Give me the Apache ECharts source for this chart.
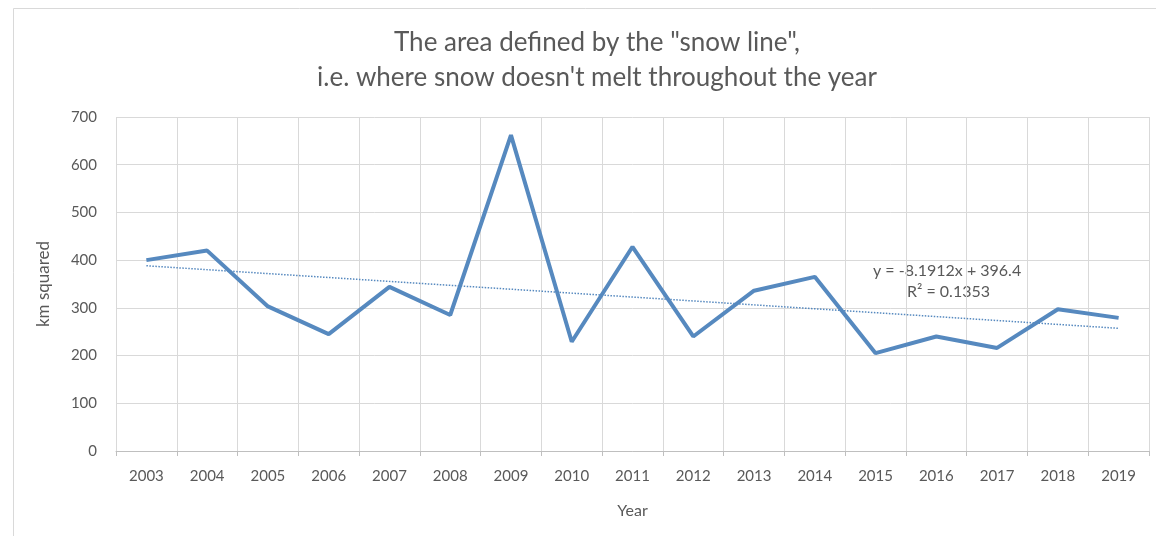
<!DOCTYPE html>
<html lang="en">
<head>
    <meta charset="UTF-8">
    <title>Snow line area</title>
    <script type="text/javascript" src="https://cdn.jsdelivr.net/npm/echarts@6/dist/echarts.min.js"></script>
    <style>
        html, body { margin: 0; padding: 0; background: #fff; }
    </style>
</head>
<body>
<div id="chart1" style="width:1156px;height:536px"></div>
</body>
<script type="text/javascript">
    var years = ['2003', '2004', '2005', '2006', '2007', '2008', '2009', '2010', '2011',
        '2012', '2013', '2014', '2015', '2016', '2017', '2018', '2019'];
    var area = [400, 420, 303, 245, 344, 285, 662, 229, 428, 240, 336, 365, 205, 240, 216, 297, 279];
    // trendline ends as drawn (first / last year)
    var trendEnds = [388.2, 257.1];
    var yTicks = [0, 100, 200, 300, 400, 500, 600, 700];

    var myChart = echarts.init(document.getElementById('chart1'));
    var font = 'Lato, "Open Sans", sans-serif';
    var grey = '#595959';
    var option = {
        animation: false,
        backgroundColor: '#fff',
        title: {
            text: 'The area defined by the "snow line",\ni.e. where snow doesn\'t melt throughout the year',
            left: 592,
            textAlign: 'center',
            top: 20,
            textStyle: {
                fontFamily: font,
                fontSize: 26,
                fontWeight: 'normal',
                color: grey,
                lineHeight: 35
            }
        },
        graphic: [
            {
                type: 'rect', left: 11, top: 6,
                shape: {width: 1160, height: 540},
                style: {fill: 'none', stroke: '#d9d9d9', lineWidth: 1},
                silent: true
            },
            {
                type: 'text', left: 873, top: 263,
                style: {text: 'y = -8.1912x + 396.4', fontFamily: font, fontSize: 16, fill: grey}
            },
            {
                type: 'text', left: 907, top: 284,
                style: {text: 'R² = 0.1353', fontFamily: font, fontSize: 16, fill: grey}
            }
        ],
        grid: {left: 116, right: 7, top: 117, bottom: 85},
        xAxis: {
            type: 'category',
            data: years,
            boundaryGap: true,
            name: 'Year',
            nameLocation: 'middle',
            nameGap: 52,
            nameTextStyle: {fontFamily: font, fontSize: 16, color: grey},
            axisLine: {lineStyle: {color: '#bfbfbf'}},
            axisTick: {show: true, length: 5, lineStyle: {color: '#bfbfbf'}},
            axisLabel: {fontFamily: font, fontSize: 15, color: grey, margin: 18},
            splitLine: {show: true, lineStyle: {color: '#d9d9d9'}}
        },
        yAxis: {
            type: 'value',
            min: yTicks[0],
            max: yTicks[yTicks.length - 1],
            interval: 100,
            name: 'km squared',
            nameLocation: 'middle',
            nameGap: 64,
            nameRotate: 90,
            nameTextStyle: {fontFamily: font, fontSize: 17, color: grey},
            axisLine: {show: false},
            axisTick: {show: false},
            axisLabel: {fontFamily: font, fontSize: 15, color: grey, margin: 19},
            splitLine: {lineStyle: {color: '#d9d9d9'}}
        },
        series: [
            {
                name: 'Area',
                type: 'line',
                data: area,
                symbol: 'none',
                lineStyle: {color: '#5689bf', width: 4},
                markLine: {
                    silent: true,
                    symbol: 'none',
                    label: {show: false},
                    lineStyle: {color: '#5689bf', type: 'dotted', width: 1.5},
                    data: [[
                        {coord: [years[0], trendEnds[0]]},
                        {coord: [years[years.length - 1], trendEnds[1]]}
                    ]]
                }
            }
        ]
    };
    myChart.setOption(option);
</script>
</html>
